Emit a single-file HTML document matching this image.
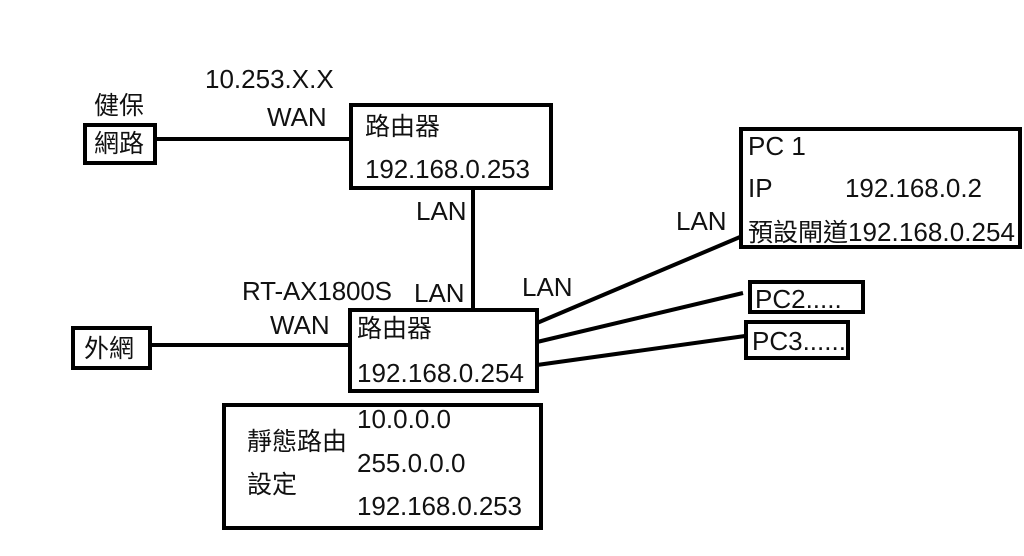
<!DOCTYPE html>
<html><head><meta charset="utf-8"><style>
html,body{margin:0;padding:0;background:#fff;}
svg{display:block;}
text{font-family:"Liberation Sans","Noto Sans CJK TC",sans-serif;font-size:26px;fill:#111;}
.c{font-size:25px;}
</style></head><body>
<svg width="1024" height="556" viewBox="0 0 1024 556" xmlns="http://www.w3.org/2000/svg">
<g fill="none" stroke="#000" stroke-width="4">
<rect x="85" y="125" width="70" height="38"/>
<rect x="351" y="105" width="200" height="83"/>
<rect x="350" y="310" width="187" height="81"/>
<rect x="73" y="328" width="77" height="40"/>
<rect x="224" y="405" width="317" height="123"/>
<rect x="741" y="129" width="279" height="118"/>
<rect x="750" y="282" width="113" height="30"/>
<rect x="746" y="322" width="102" height="36"/>
<line x1="155" y1="139" x2="351" y2="139"/>
<line x1="473" y1="188" x2="473" y2="310"/>
<line x1="150" y1="345" x2="350" y2="345"/>
<line x1="537" y1="323" x2="740" y2="237"/>
<line x1="537" y1="342" x2="743" y2="293"/>
<line x1="537" y1="365" x2="745" y2="336"/>
</g>
<text x="205" y="88">10.253.X.X</text>
<text x="267" y="126">WAN</text>
<text x="94" y="114" class="c">健保</text>
<text x="94" y="152" class="c">網路</text>
<text x="365" y="135" class="c">路由器</text>
<text x="365" y="178" textLength="165">192.168.0.253</text>
<text x="416" y="220">LAN</text>
<text x="242" y="300" textLength="150">RT-AX1800S</text>
<text x="414" y="302">LAN</text>
<text x="522" y="296">LAN</text>
<text x="270" y="334">WAN</text>
<text x="357" y="337" class="c">路由器</text>
<text x="357" y="382" textLength="167">192.168.0.254</text>
<text x="84" y="357" class="c">外網</text>
<text x="247" y="450" class="c" font-size="24">靜態路由</text>
<text x="247" y="493" class="c" font-size="24">設定</text>
<text x="357" y="428">10.0.0.0</text>
<text x="357" y="472">255.0.0.0</text>
<text x="357" y="515" textLength="165">192.168.0.253</text>
<text x="748" y="155">PC 1</text>
<text x="748" y="197">IP</text>
<text x="845" y="197" textLength="137">192.168.0.2</text>
<text x="748" y="241" class="c">預設閘道</text>
<text x="848" y="241" textLength="167">192.168.0.254</text>
<text x="676" y="230">LAN</text>
<text x="755" y="308">PC2.....</text>
<text x="752" y="350">PC3......</text>
</svg>
</body></html>
